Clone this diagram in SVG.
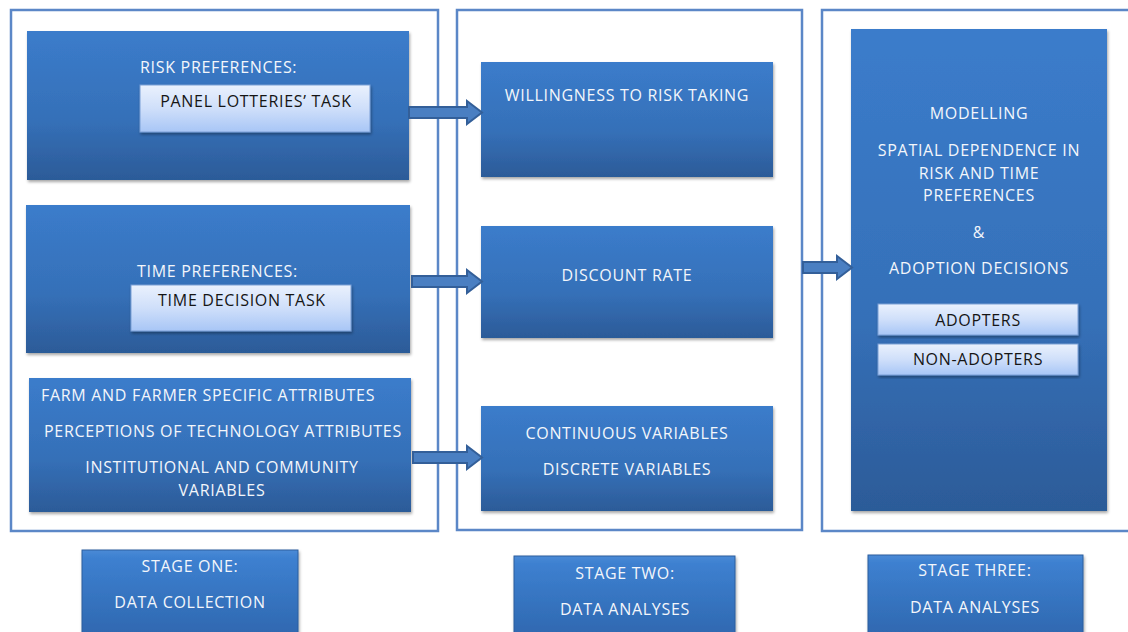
<svg xmlns="http://www.w3.org/2000/svg" width="1128" height="632" viewBox="0 0 1128 632">
<defs>
<linearGradient id="blue" x1="0" y1="0" x2="0" y2="1">
<stop offset="0" stop-color="#3b7ccb"/>
<stop offset="0.6" stop-color="#3570b8"/>
<stop offset="1" stop-color="#2c5b98"/>
</linearGradient>
<linearGradient id="light" x1="0" y1="0" x2="0" y2="1">
<stop offset="0" stop-color="#eaf1fd"/>
<stop offset="0.5" stop-color="#cfdffa"/>
<stop offset="1" stop-color="#a8c6f6"/>
</linearGradient>
<linearGradient id="stage" x1="0" y1="0" x2="0" y2="1">
<stop offset="0" stop-color="#4a8ad6"/>
<stop offset="0.1" stop-color="#3d80d0"/>
<stop offset="1" stop-color="#2f68b0"/>
</linearGradient>
<filter id="sh" x="-5%" y="-5%" width="112%" height="115%">
<feDropShadow dx="1" dy="2" stdDeviation="1.5" flood-color="#000" flood-opacity="0.35"/>
</filter>
</defs>
<style>
.frame{fill:none;stroke:#5b87c7;stroke-width:2.5}
.box{fill:url(#blue);filter:url(#sh)}
.lbox{fill:url(#light);stroke:#7b9fd6;stroke-width:1;filter:url(#sh)}
.sbox{fill:url(#stage);stroke:#2d5e9e;stroke-width:1;filter:url(#sh)}
.t{font-family:"Open Sans","Liberation Sans",sans-serif;font-size:16px;letter-spacing:0.7px;fill:#f3f6fb}
.d{font-family:"Open Sans","Liberation Sans",sans-serif;font-size:16px;letter-spacing:0.7px;fill:#151515}
.c{text-anchor:middle}
.arrow{fill:#4a7fc2;stroke:#335f99;stroke-width:2;stroke-linejoin:miter}
</style>
<g id="frames">
<rect class="frame" x="11" y="10" width="427" height="521"/>
<rect class="frame" x="457" y="10" width="345" height="520"/>
<rect class="frame" x="822" y="10" width="310" height="521"/>
</g>
<g id="risk">
<rect class="box" x="27" y="31" width="382" height="149"/>
<text class="t" x="140" y="73">RISK PREFERENCES:</text>
<rect class="lbox" x="140" y="85" width="230" height="47"/>
<text class="d c" x="256" y="107">PANEL LOTTERIES’ TASK</text>
</g>
<g id="time">
<rect class="box" x="26" y="205" width="384" height="148"/>
<text class="t" x="137" y="277">TIME PREFERENCES:</text>
<rect class="lbox" x="131" y="285" width="220" height="46"/>
<text class="d c" x="242" y="306">TIME DECISION TASK</text>
</g>
<g id="attributes">
<rect class="box" x="29" y="378" width="382" height="134"/>
<text class="t" x="41" y="401">FARM AND FARMER SPECIFIC ATTRIBUTES</text>
<text class="t" x="44" y="437">PERCEPTIONS OF TECHNOLOGY ATTRIBUTES</text>
<text class="t c" x="222" y="473">INSTITUTIONAL AND COMMUNITY</text>
<text class="t c" x="222" y="496">VARIABLES</text>
</g>
<g id="willingness">
<rect class="box" x="481" y="62" width="292" height="115"/>
<text class="t c" x="627" y="101">WILLINGNESS TO RISK TAKING</text>
</g>
<g id="discount">
<rect class="box" x="481" y="226" width="292" height="112"/>
<text class="t c" x="627" y="281">DISCOUNT RATE</text>
</g>
<g id="variables">
<rect class="box" x="481" y="406" width="292" height="105"/>
<text class="t c" x="627" y="439">CONTINUOUS VARIABLES</text>
<text class="t c" x="627" y="475">DISCRETE VARIABLES</text>
</g>
<g id="modelling">
<rect class="box" x="851" y="29" width="256" height="482"/>
<text class="t c" x="979" y="119">MODELLING</text>
<text class="t c" x="979" y="156">SPATIAL DEPENDENCE IN</text>
<text class="t c" x="979" y="179">RISK AND TIME</text>
<text class="t c" x="979" y="201">PREFERENCES</text>
<text class="t c" x="979" y="238">&amp;</text>
<text class="t c" x="979" y="274">ADOPTION DECISIONS</text>
<rect class="lbox" x="878" y="304" width="200" height="31"/>
<text class="d c" x="978" y="326">ADOPTERS</text>
<rect class="lbox" x="878" y="344" width="200" height="31"/>
<text class="d c" x="978" y="365">NON-ADOPTERS</text>
</g>
<g id="stage1">
<rect class="sbox" x="82" y="550" width="216" height="85"/>
<text class="t c" x="190" y="572">STAGE ONE:</text>
<text class="t c" x="190" y="608">DATA COLLECTION</text>
</g>
<g id="stage2">
<rect class="sbox" x="514" y="556" width="221" height="80"/>
<text class="t c" x="625" y="579">STAGE TWO:</text>
<text class="t c" x="625" y="615">DATA ANALYSES</text>
</g>
<g id="stage3">
<rect class="sbox" x="868" y="555" width="215" height="80"/>
<text class="t c" x="975" y="576">STAGE THREE:</text>
<text class="t c" x="975" y="613">DATA ANALYSES</text>
</g>
<g id="connectors">
<path class="arrow" d="M409 107 H467 V101 L482 112.5 L467 124 V118 H409 Z"/>
<path class="arrow" d="M412 276 H467 V270 L482 281.5 L467 293 V287 H412 Z"/>
<path class="arrow" d="M413 452 H467 V446 L482 457.5 L467 469 V463 H413 Z"/>
<path class="arrow" d="M803 262 H837 V256 L852 267.5 L837 279 V273 H803 Z"/>
</g>
</svg>
